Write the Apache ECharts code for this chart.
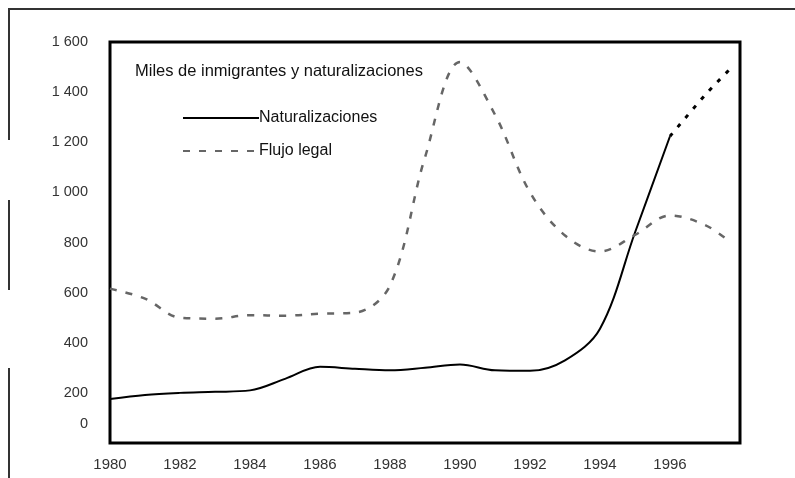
<!DOCTYPE html>
<html>
<head>
<meta charset="utf-8">
<script src="https://cdn.jsdelivr.net/npm/echarts@6/dist/echarts.min.js"></script>
<style>
html,body{margin:0;padding:0;background:#fff;}
#c{width:795px;height:478px;}
</style>
</head>
<body>
<div id="c"></div>
<script>
// Data
const chartTitle = 'Miles de inmigrantes y naturalizaciones';
const natName = 'Naturalizaciones';
const flujoName = 'Flujo legal';
const natYears = [1980, 1981, 1982, 1983, 1984, 1985, 1986, 1987, 1988, 1989, 1990, 1991, 1992, 1993, 1994, 1995, 1996];
const natValues = [176, 192, 200, 204, 210, 256, 304, 296, 290, 300, 313, 290, 288, 330, 456, 840, 1224];
const natProjYears = [1996, 1997, 1997.7];
const natProjValues = [1224, 1388, 1490];
const flujoYears = [1980, 1981, 1982, 1983, 1984, 1985, 1986, 1987, 1988, 1989, 1990, 1991, 1992, 1993, 1994, 1995, 1996, 1997, 1997.7];
const flujoValues = [616, 576, 500, 496, 510, 508, 516, 520, 628, 1140, 1520, 1310, 1000, 828, 764, 830, 908, 870, 804];
const xTicks = [1980, 1982, 1984, 1986, 1988, 1990, 1992, 1994, 1996];
const yTicks = [0, 200, 400, 600, 800, 1000, 1200, 1400, 1600];

const zip = (xs, ys) => xs.map((x, i) => [x, ys[i]]);
const fmtY = v => {
  if (v === 0) return '{z|0}';
  const s = String(v);
  return s.length > 3 ? s.slice(0, s.length - 3) + ' ' + s.slice(-3) : s;
};

const chart = echarts.init(document.getElementById('c'));
chart.setOption({
  animation: false,
  backgroundColor: '#fff',
  textStyle: { fontFamily: 'Liberation Sans, Arial, sans-serif' },
  grid: { left: 110, right: 55, top: 42, bottom: 35, show: true, borderColor: '#000', borderWidth: 3, backgroundColor: 'transparent' },
  title: {
    text: chartTitle, left: 130, top: 58,
    textStyle: { fontSize: 16.5, fontWeight: 'normal', color: '#111', fontFamily: 'Liberation Sans, Arial, sans-serif' }
  },
  legend: {
    data: [
      { name: natName, itemStyle: { opacity: 0 } },
      { name: flujoName, itemStyle: { opacity: 0 } }
    ],
    orient: 'vertical', left: 177, top: 105,
    itemWidth: 76, itemHeight: 16, itemGap: 17,
    textStyle: { fontSize: 16, color: '#111', padding: [0, 0, 0, -5] }
  },
  xAxis: {
    type: 'value', min: 1980, max: 1998, interval: 2,
    axisLine: { show: false }, axisTick: { show: false }, splitLine: { show: false },
    axisLabel: {
      margin: 14, fontSize: 15, color: '#333',
      formatter: v => xTicks.includes(v) ? String(v) : ''
    }
  },
  yAxis: {
    type: 'value', min: 0, max: 1600, interval: 200,
    axisLine: { show: false }, axisTick: { show: false }, splitLine: { show: false },
    axisLabel: {
      margin: 22, fontSize: 14.5, color: '#333',
      formatter: v => yTicks.includes(v) ? fmtY(v) : '',
      rich: { z: { fontSize: 14.5, color: '#333', padding: [0, 0, 38, 0] } }
    }
  },
  graphic: [
    { type: 'line', shape: { x1: 8, y1: 9, x2: 795, y2: 9 }, style: { stroke: '#333', lineWidth: 2 } },
    { type: 'line', shape: { x1: 9, y1: 9, x2: 9, y2: 140 }, style: { stroke: '#333', lineWidth: 2 } },
    { type: 'line', shape: { x1: 9, y1: 200, x2: 9, y2: 290 }, style: { stroke: '#333', lineWidth: 2 } },
    { type: 'line', shape: { x1: 9, y1: 368, x2: 9, y2: 478 }, style: { stroke: '#333', lineWidth: 2 } }
  ],
  series: [
    {
      name: natName, type: 'line', data: zip(natYears, natValues),
      smooth: 0.35, showSymbol: false, symbol: 'none',
      lineStyle: { color: '#000', width: 2, type: 'solid' },
      itemStyle: { color: '#000' }
    },
    {
      name: natName + ' proy', type: 'line', data: zip(natProjYears, natProjValues),
      smooth: 0.3, showSymbol: false, symbol: 'none',
      lineStyle: { color: '#000', width: 3, type: [4, 8] }
    },
    {
      name: flujoName, type: 'line', data: zip(flujoYears, flujoValues),
      smooth: 0.35, showSymbol: false, symbol: 'none',
      lineStyle: { color: '#666', width: 2.5, type: [7, 9] },
      itemStyle: { color: '#666' }
    }
  ]
});
</script>
</body>
</html>
